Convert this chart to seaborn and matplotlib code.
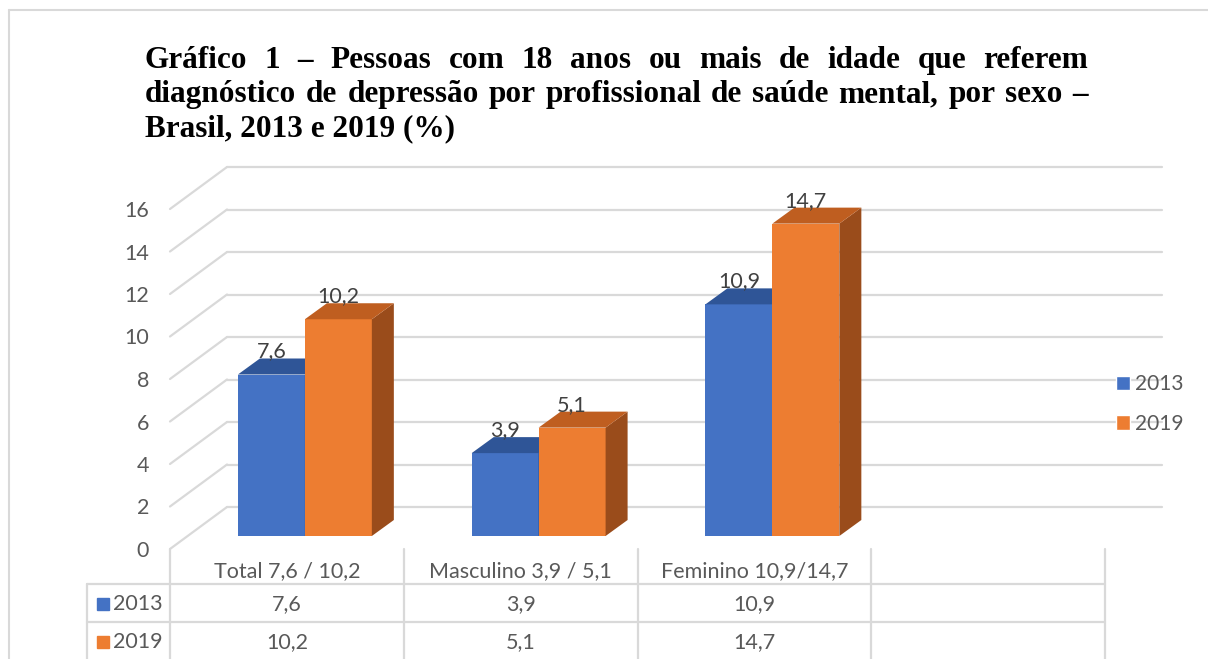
import matplotlib
matplotlib.use('Agg')
import matplotlib.pyplot as plt
import matplotlib.transforms as mtransforms
from matplotlib.patches import Polygon, Rectangle
from matplotlib.lines import Line2D
import pandas as pd
import seaborn as sns

# data
categories = ['Total 7,6 / 10,2', 'Masculino 3,9 / 5,1', 'Feminino 10,9/14,7', '']
years = ['2013', '2019']
values_2013 = [7.6, 3.9, 10.9]
values_2019 = [10.2, 5.1, 14.7]
yticks = [0, 2, 4, 6, 8, 10, 12, 14, 16]
title_lines = [
    'Gráfico 1 – Pessoas com 18 anos ou mais de idade que referem',
    'diagnóstico de depressão por profissional de saúde mental, por sexo –',
    'Brasil, 2013 e 2019 (%)',
]

colors = {'2013': '#4472C4', '2019': '#ED7D31'}
top_colors = {'2013': '#2F5597', '2019': '#BF5E20'}
side_colors = {'2013': '#2A4C86', '2019': '#9A4C1B'}
text_gray = '#595959'
line_gray = '#D9D9D9'


def fmt(v):
    return f'{v:.1f}'.replace('.', ',')


sns.set_style('white')
plt.rcParams['font.family'] = ['Lato', 'DejaVu Sans']

W, H = 1208, 659
fig = plt.figure(figsize=(W / 100, H / 100), dpi=100)
# axes = front edge of the floor (0 at the front, 16 at the top)
ax = fig.add_axes([170 / W, (H - 549) / H, 935 / W, 340 / H])

df = pd.DataFrame({
    'categoria': categories[:3] * 2,
    'ano': ['2013'] * 3 + ['2019'] * 3,
    'valor': values_2013 + values_2019,
})
sns.barplot(data=df, x='categoria', y='valor', hue='ano', order=categories,
            hue_order=years, palette=colors, width=0.573, saturation=1,
            legend=False, linewidth=0, ax=ax)
ax.set_xlim(-0.5, 3.5)
ax.set_ylim(0, 16)
ax.set_facecolor('none')
ax.grid(False)
sns.despine(ax=ax, left=True, bottom=True)
ax.set_xlabel('')
ax.set_ylabel('')

# pixel -> data units
ux = 4 / 935
uy = 16 / 340

# back wall + side diagonals
bdx, bdy = 57 * ux, 42 * uy
for v in yticks:
    ax.plot([-0.5, -0.5 + bdx], [v, v + bdy], color=line_gray, lw=1.6,
            clip_on=False, zorder=0)
    ax.plot([-0.5 + bdx, 3.5 + bdx], [v + bdy, v + bdy], color=line_gray,
            lw=1.6, clip_on=False, zorder=0)

# bars sit a bit behind the front edge; add 3d top and side faces
bar_tr = mtransforms.offset_copy(ax.transData, fig=fig, x=18, y=13, units='dots')
lab_tr = mtransforms.offset_copy(ax.transData, fig=fig, x=18, y=13 + 23, units='dots')
ddx, ddy = 22 * ux, 16 * uy
for k, (cont, yr) in enumerate(zip(ax.containers, years)):
    for bar in cont:
        x0, w, h = bar.get_x(), bar.get_width(), bar.get_height()
        bar.set_transform(bar_tr)
        bar.set_zorder(2 + k)
        bar.set_clip_on(False)
        top = Polygon([(x0, h), (x0 + w, h), (x0 + w + ddx, h + ddy), (x0 + ddx, h + ddy)],
                      closed=True, facecolor=top_colors[yr], edgecolor='none',
                      transform=bar_tr, zorder=2 + k, clip_on=False)
        side = Polygon([(x0 + w, 0), (x0 + w, h), (x0 + w + ddx, h + ddy), (x0 + w + ddx, ddy)],
                       closed=True, facecolor=side_colors[yr], edgecolor='none',
                       transform=bar_tr, zorder=2 + k, clip_on=False)
        ax.add_patch(side)
        ax.add_patch(top)
        ax.text(x0 + w / 2, h, fmt(h), transform=lab_tr, ha='center', va='center',
                fontsize=15.5, color='#404040', zorder=6)

ax.set_yticks(yticks)
ax.set_yticklabels([str(v) for v in yticks])
ax.tick_params(axis='y', length=0, pad=15, labelsize=15.5, labelcolor=text_gray)
ax.set_xticks(range(len(categories)))
ax.set_xticklabels(categories)
ax.tick_params(axis='x', length=0, pad=9, labelsize=15.5, labelcolor=text_gray)

# data table below the chart
row_y = [-55 * uy, -93 * uy]
left_x = -0.5 - 83 * ux
for xb in [-0.5, 0.5, 1.5, 2.5, 3.5]:
    ax.plot([xb, xb], [0, -125 * uy], color=line_gray, lw=1.6, clip_on=False, zorder=0)
ax.plot([left_x, left_x], [-35 * uy, -125 * uy], color=line_gray, lw=1.6, clip_on=False)
for yb in [-35 * uy, -73 * uy]:
    ax.plot([left_x, 3.5], [yb, yb], color=line_gray, lw=1.6, clip_on=False)
for yr, yc, vals in zip(years, row_y, [values_2013, values_2019]):
    ax.plot(-0.5 - 67 * ux, yc, marker='s', ms=8, color=colors[yr], clip_on=False)
    ax.text(-0.5 - 57 * ux, yc, yr, ha='left', va='center', fontsize=15.5, color=text_gray)
    for i, v in enumerate(vals):
        ax.text(i, yc, fmt(v), ha='center', va='center', fontsize=15.5, color=text_gray)

# legend
handles = [Rectangle((0, 0), 1, 1, facecolor=colors[y]) for y in years]
leg = ax.legend(handles, years, loc='center left', bbox_to_anchor=(1116 / W, 1 - 404 / H),
                bbox_transform=fig.transFigure, frameon=False, fontsize=15,
                handlelength=0.68, handleheight=0.68, handletextpad=0.25,
                labelspacing=0.95, borderpad=0, borderaxespad=0)
for t in leg.get_texts():
    t.set_color(text_gray)

# justified title
renderer = fig.canvas.get_renderer()
t_left, t_right = 145, 1088
baselines = [68, 102, 136]
tkw = dict(fontfamily=['Liberation Serif', 'DejaVu Serif'], fontweight='bold',
           fontsize=22.5, color='black', va='baseline', ha='left')
for n, (line, yb) in enumerate(zip(title_lines, baselines)):
    if n == len(title_lines) - 1:
        fig.text(t_left / W, 1 - yb / H, line, **tkw)
        continue
    words = line.split(' ')
    texts = [fig.text(0, 1 - yb / H, wd, **tkw) for wd in words]
    widths = [t.get_window_extent(renderer).width for t in texts]
    gap = (t_right - t_left - sum(widths)) / (len(words) - 1)
    x = t_left
    for t, wdt in zip(texts, widths):
        t.set_x(x / W)
        x += wdt + gap

# outer frame
fig.add_artist(Line2D([9 / W, 1], [1 - 10 / H, 1 - 10 / H], transform=fig.transFigure,
                      color=line_gray, lw=1.5))
fig.add_artist(Line2D([9 / W, 9 / W], [1 - 10 / H, 0], transform=fig.transFigure,
                      color=line_gray, lw=1.5))

fig.savefig('out.png', dpi=100)
